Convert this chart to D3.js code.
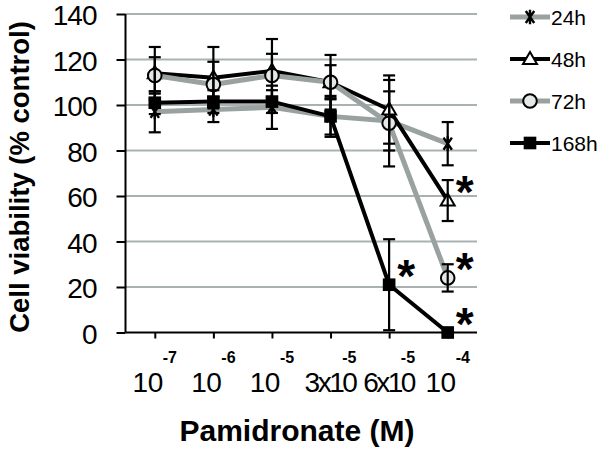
<!DOCTYPE html>
<html>
<head>
<meta charset="utf-8">
<script src="https://cdn.jsdelivr.net/npm/d3@7"></script>
<style>
  html, body { margin: 0; padding: 0; background: #fff; }
  svg { display: block; }
  text { font-family: "Liberation Sans", Arial, Helvetica, sans-serif; fill: #000; }
</style>
</head>
<body>
<svg id="chart" width="600" height="451"></svg>
<script>
// ---- data ----
const categories = ["1e-7", "1e-6", "1e-5", "3e-5", "6e-5", "1e-4"];
const tickBase = ["10", "10", "10", "3x10", "6x10", "10"];
const tickExp = ["-7", "-6", "-5", "-5", "-5", "-4"];
const yTicks = [0, 20, 40, 60, 80, 100, 120, 140];
const seriesNames = ["24h", "48h", "72h", "168h"];
const values24 = [97, 98, 99, 95, 93, 83];
const errors24 = [9, 5.5, 9.5, 9, 13, 9.5];
const values48 = [114, 112, 115, 110, 98, 58];
const errors48 = [11.5, 13.5, 14, 12, 15, 9];
const values72 = [113, 109, 113, 110, 92, 24];
const errors72 = [8, 10, 9.5, 7.5, 19, 6];
const values168 = [101, 101.5, 101.5, 95, 21, 0];
const errors168 = [5, 5, 5, 8, 20, 0];
// significance stars: [series index, category index]
const stars = [[1, 5], [2, 5], [3, 5], [3, 4]];
const xTitle = "Pamidronate (M)";
const yTitle = "Cell viability (% control)";

(function () {
// ---- setup ----
const series = [
  { name: seriesNames[0], values: values24, errors: errors24, color: "#9aa2a1", width: 5, marker: "asterisk" },
  { name: seriesNames[1], values: values48, errors: errors48, color: "#000", width: 4, marker: "triangle" },
  { name: seriesNames[2], values: values72, errors: errors72, color: "#9aa2a1", width: 5, marker: "circle" },
  { name: seriesNames[3], values: values168, errors: errors168, color: "#000", width: 4, marker: "square" }
];

const svg = d3.select("#chart");
const pL = 125.5, pR = 477, pT = 14, pB = 332.5;

const x = d3.scalePoint().domain(categories).range([pL, pR]).padding(0.5);
const y = d3.scaleLinear().domain([0, 140]).range([pB, pT]);

// gridlines
svg.append("g").selectAll("line").data(yTicks.filter(d => d > 0)).join("line")
  .attr("x1", pL).attr("x2", pR)
  .attr("y1", d => y(d)).attr("y2", d => y(d))
  .attr("stroke", "#a9b2b1").attr("stroke-width", 2);

// y axis
const yAxis = svg.append("g").attr("transform", `translate(${pL},0)`)
  .call(d3.axisLeft(y).tickValues(yTicks).tickSize(9).tickPadding(20));
yAxis.select(".domain").attr("stroke", "#000").attr("stroke-width", 2).attr("d", `M0,${pT}V${pB}`);
yAxis.selectAll(".tick line").attr("stroke", "#000").attr("stroke-width", 2);
yAxis.selectAll(".tick text").attr("font-size", 28).attr("dy", "0.38em").attr("letter-spacing", -1)
  .style("font-family", '"Liberation Sans", Arial, sans-serif');

// x axis
const xAxis = svg.append("g").attr("transform", `translate(0,${pB})`)
  .call(d3.axisBottom(x).tickSize(6).tickFormat(""));
xAxis.select(".domain").attr("stroke", "#000").attr("stroke-width", 2).attr("d", `M${pL},0H${pR}`);
xAxis.selectAll(".tick line").attr("stroke", "#000").attr("stroke-width", 2);

// x tick labels with superscripts
const xl = svg.append("g");
categories.forEach((c, i) => {
  const overlap = tickBase[i].includes("x");
  const t = xl.append("text")
    .attr("x", x(c)).attr("y", 392)
    .attr("text-anchor", "middle").attr("font-size", 28);
  t.append("tspan").attr("letter-spacing", overlap ? -2.5 : -0.5).text(tickBase[i]);
  t.append("tspan").attr("dy", -29).attr("dx", overlap ? -13 : 0).attr("letter-spacing", 0)
    .attr("font-size", 16).attr("font-weight", "bold").text(tickExp[i]);
});

// titles
svg.append("text").attr("x", 297).attr("y", 441).attr("text-anchor", "middle")
  .attr("font-size", 30).attr("font-weight", "bold").text(xTitle);
svg.append("text").attr("transform", "translate(29,177) rotate(-90)").attr("text-anchor", "middle")
  .attr("font-size", 27.5).attr("font-weight", "bold").text(yTitle);

// custom asterisk symbol
const asteriskSym = {
  draw(ctx, size) {
    const r = Math.sqrt(size) * 0.6;
    const a = Math.PI * 55 / 180;
    ctx.moveTo(0, -r); ctx.lineTo(0, r);
    ctx.moveTo(-r * Math.cos(a), -r * Math.sin(a)); ctx.lineTo(r * Math.cos(a), r * Math.sin(a));
    ctx.moveTo(-r * Math.cos(a), r * Math.sin(a)); ctx.lineTo(r * Math.cos(a), -r * Math.sin(a));
  }
};
function drawMarker(g, s, px, py) {
  if (s.marker === "asterisk") {
    g.append("path").attr("d", d3.symbol(asteriskSym, 150)()).attr("transform", `translate(${px},${py})`)
      .attr("fill", "none").attr("stroke", "#000").attr("stroke-width", 2.4);
  } else if (s.marker === "triangle") {
    g.append("path").attr("d", d3.symbol(d3.symbolTriangle, 85)()).attr("transform", `translate(${px},${py + 1})`)
      .attr("fill", "#fff").attr("stroke", "#000").attr("stroke-width", 2);
  } else if (s.marker === "circle") {
    g.append("circle").attr("cx", px).attr("cy", py).attr("r", 6.8)
      .attr("fill", "#e6e8e8").attr("stroke", "#000").attr("stroke-width", 2);
  } else {
    g.append("path").attr("d", d3.symbol(d3.symbolSquare, 160)()).attr("transform", `translate(${px},${py})`)
      .attr("fill", "#000");
  }
}

const line = d3.line().x((d, i) => x(categories[i])).y(d => y(d));
const plot = svg.append("g");
series.forEach(s => {
  const g = plot.append("g");
  g.append("path").attr("d", line(s.values)).attr("fill", "none")
    .attr("stroke", s.color).attr("stroke-width", s.width).attr("stroke-linejoin", "round");
  s.values.forEach((v, i) => drawMarker(g, s, x(categories[i]), y(v)));
});
// error bars
const eb = svg.append("g").attr("stroke", "#000").attr("stroke-width", 2.2);
series.forEach(s => {
  s.values.forEach((v, i) => {
    const e = s.errors[i];
    if (!e) return;
    const px = x(categories[i]);
    eb.append("line").attr("x1", px).attr("x2", px).attr("y1", y(v + e)).attr("y2", y(v - e));
    [v + e, v - e].forEach(w => {
      eb.append("line").attr("x1", px - 6).attr("x2", px + 6).attr("y1", y(w)).attr("y2", y(w));
    });
  });
});

// significance stars
svg.append("g").selectAll("text").data(stars).join("text")
  .attr("x", d => x(categories[d[1]]) + 17)
  .attr("y", d => y(series[d[0]].values[d[1]]) - 19 + 26)
  .attr("text-anchor", "middle").attr("font-size", 46).attr("font-weight", "bold").text("*");

// legend
const lg = svg.append("g");
series.forEach((s, i) => {
  const ly = 17 + i * 42;
  lg.append("line").attr("x1", 510).attr("x2", 550).attr("y1", ly).attr("y2", ly)
    .attr("stroke", s.color).attr("stroke-width", s.width);
  drawMarker(lg, s, 530, ly);
  lg.append("text").attr("x", 551).attr("y", ly).attr("dy", "0.36em")
    .attr("font-size", 21).text(s.name);
});
})();
</script>
</body>
</html>
